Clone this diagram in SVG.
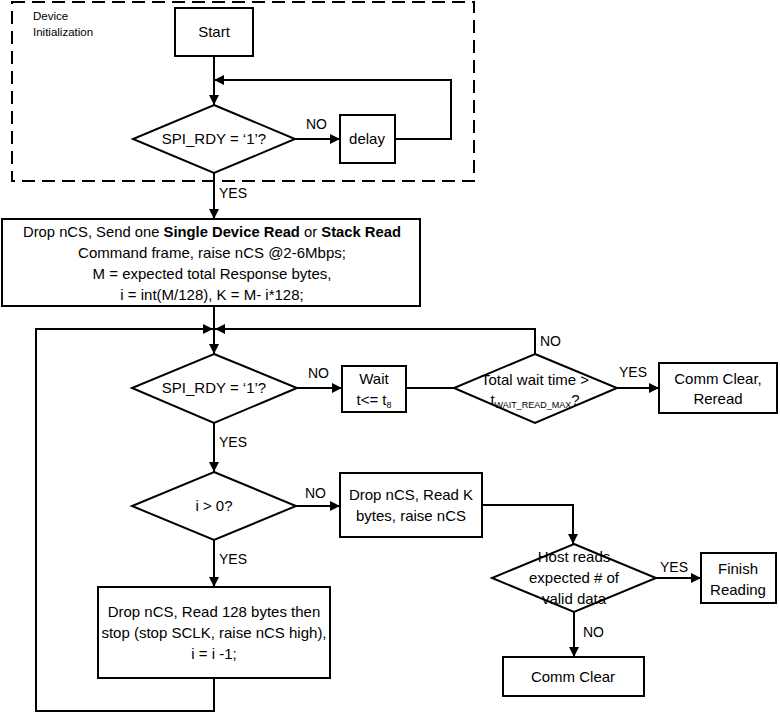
<svg xmlns="http://www.w3.org/2000/svg" width="780" height="713" viewBox="0 0 780 713">
<style>
.b{fill:#fff;stroke:#000;stroke-width:2}
.c{fill:none;stroke:#000;stroke-width:2}
text{font-family:"Liberation Sans",Arial,sans-serif;font-size:15px;fill:#000;text-anchor:middle}
.s{font-size:11.5px;text-anchor:start}
.l{text-anchor:start;font-size:14px}
.sub{font-size:9px}
</style>
<defs>
<marker id="a" markerUnits="userSpaceOnUse" markerWidth="10" markerHeight="10" refX="10" refY="5" orient="auto">
<path d="M0,0 L10,5 L0,10 z" fill="#000"/>
</marker>
</defs>
<g id="init-group">
<rect x="12" y="2" width="462" height="179" fill="none" stroke="#000" stroke-width="2" stroke-dasharray="13,7"/>
<text class="s" x="33" y="20">Device</text>
<text class="s" x="33" y="36">Initialization</text>
</g>
<g id="connectors">
<path class="c" d="M214,56 V105" marker-end="url(#a)"/>
<path class="c" d="M295,139 H340" marker-end="url(#a)"/>
<path class="c" d="M395,139 H451 V80 H214" marker-end="url(#a)"/>
<path class="c" d="M214,173 V219" marker-end="url(#a)"/>
<path class="c" d="M214,306 V354" marker-end="url(#a)"/>
<path class="c" d="M214,678 V711 H36 V329 H213" marker-end="url(#a)"/>
<path class="c" d="M535,354 V329 H215" marker-end="url(#a)"/>
<path class="c" d="M297,388 H342" marker-end="url(#a)"/>
<path class="c" d="M406,388 H454"/>
<path class="c" d="M617,388 H659" marker-end="url(#a)"/>
<path class="c" d="M214,423 V472" marker-end="url(#a)"/>
<path class="c" d="M296,506 H340" marker-end="url(#a)"/>
<path class="c" d="M214,540 V587" marker-end="url(#a)"/>
<path class="c" d="M482,505 H573 V544" marker-end="url(#a)"/>
<path class="c" d="M656,578 H701" marker-end="url(#a)"/>
<path class="c" d="M574,612 V657" marker-end="url(#a)"/>
<text class="l" x="306" y="129">NO</text>
<text class="l" x="219" y="198">YES</text>
<text class="l" x="308" y="378">NO</text>
<text class="l" x="540" y="346">NO</text>
<text class="l" x="619" y="377">YES</text>
<text class="l" x="219" y="447">YES</text>
<text class="l" x="305" y="498">NO</text>
<text class="l" x="219" y="564">YES</text>
<text class="l" x="660" y="572">YES</text>
<text class="l" x="583" y="637">NO</text>
</g>
<g id="start">
<rect class="b" x="175" y="8" width="78" height="48"/>
<text x="214" y="37">Start</text>
</g>
<g id="spi-rdy-1">
<polygon class="b" points="214,105 295,139 214,173 133,139"/>
<text x="214" y="144">SPI_RDY = ‘1’?</text>
</g>
<g id="delay">
<rect class="b" x="340" y="115" width="55" height="48"/>
<text x="367" y="144">delay</text>
</g>
<g id="send-read">
<rect class="b" x="2" y="219" width="418" height="87"/>
<text x="212" y="237" textLength="378" lengthAdjust="spacingAndGlyphs">Drop nCS, Send one <tspan font-weight="bold">Single Device Read</tspan> or <tspan font-weight="bold">Stack Read</tspan></text>
<text x="212" y="258">Command frame, raise nCS @2-6Mbps;</text>
<text x="212" y="279">M = expected total Response bytes,</text>
<text x="212" y="300">i = int(M/128), K = M- i*128;</text>
</g>
<g id="spi-rdy-2">
<polygon class="b" points="214,354 297,388 214,423 132,388"/>
<text x="214" y="393">SPI_RDY = ‘1’?</text>
</g>
<g id="wait">
<rect class="b" x="342" y="366" width="64" height="46"/>
<text x="374" y="384">Wait</text>
<text x="374" y="405">t&lt;= t<tspan class="sub" dy="3">8</tspan></text>
</g>
<g id="total-wait">
<polygon class="b" points="535,354 617,388 535,423 454,388"/>
<text x="535" y="385">Total wait time &gt;</text>
<text x="535" y="405">t<tspan class="sub" dy="3">WAIT_READ_MAX</tspan><tspan dy="-3">?</tspan></text>
</g>
<g id="comm-clear-reread">
<rect class="b" x="659" y="363" width="118" height="50"/>
<text x="718" y="384">Comm Clear,</text>
<text x="718" y="404">Reread</text>
</g>
<g id="i-gt-0">
<polygon class="b" points="214,472 296,506 214,540 132,506"/>
<text x="214" y="511">i &gt; 0?</text>
</g>
<g id="read-k">
<rect class="b" x="340" y="473" width="142" height="64"/>
<text x="411" y="500">Drop nCS, Read K</text>
<text x="411" y="521">bytes, raise nCS</text>
</g>
<g id="read-128">
<rect class="b" x="98" y="587" width="232" height="91"/>
<text x="214" y="617">Drop nCS, Read 128 bytes then</text>
<text x="214" y="638">stop (stop SCLK, raise nCS high),</text>
<text x="214" y="659">i = i -1;</text>
</g>
<g id="host-reads">
<polygon class="b" points="574,544 656,578 574,612 492,578"/>
<text x="574" y="562">Host reads</text>
<text x="574" y="583">expected # of</text>
<text x="574" y="604">valid data</text>
</g>
<g id="finish">
<rect class="b" x="701" y="553" width="75" height="50"/>
<text x="738" y="574">Finish</text>
<text x="738" y="595">Reading</text>
</g>
<g id="comm-clear">
<rect class="b" x="503" y="657" width="141" height="39"/>
<text x="573" y="682">Comm Clear</text>
</g>
</svg>
